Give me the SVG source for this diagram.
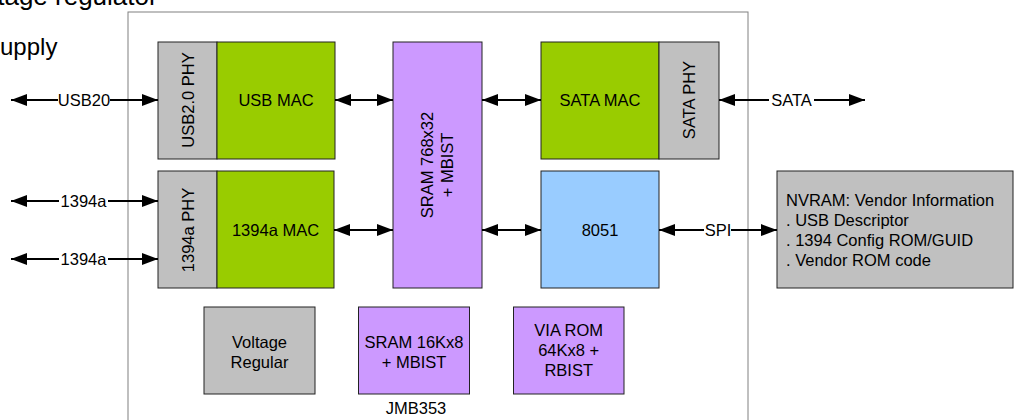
<svg xmlns="http://www.w3.org/2000/svg" width="1017" height="420" viewBox="0 0 1017 420">
<style>
text{font-family:"Liberation Sans",Arial,sans-serif;font-size:16.5px;fill:#000}
.c{text-anchor:middle}
.bg{font-size:26px}
.box{stroke:#222;stroke-width:1}
.gray{fill:#C0C0C0}
.green{fill:#99CC00}
.purple{fill:#CC99FF}
.blue{fill:#99CCFF}
.ln{stroke:#000;stroke-width:2;fill:none}
</style>
<defs>
<marker id="ah" markerUnits="userSpaceOnUse" markerWidth="17" markerHeight="12" refX="16" refY="6" orient="auto-start-reverse">
<path d="M0,0 L16,6 L0,12 z" fill="#000"/>
</marker>
</defs>
<rect width="1017" height="420" fill="#fff"/>
<text class="bg" x="-2.8" y="5">tage regulator</text>
<text class="bg" x="0" y="55" style="font-size:24px">upply</text>
<rect id="chip" x="128" y="12" width="620" height="420" fill="none" stroke="#808080" stroke-width="1"/>
<text class="c" x="416" y="414">JMB353</text>
<g id="usbphy"><rect class="box gray" x="158" y="42" width="59" height="117"/><text class="c" transform="translate(193.5,100) rotate(-90)">USB2.0 PHY</text></g>
<g id="usbmac"><rect class="box green" x="217" y="42" width="118" height="117"/><text class="c" x="276" y="106">USB MAC</text></g>
<g id="sram768"><rect class="box purple" x="393" y="42" width="89" height="246"/><text class="c" transform="translate(437.5,165) rotate(-90)"><tspan x="0" y="-4.2">SRAM 768x32</tspan><tspan x="0" y="15.8">+ MBIST</tspan></text></g>
<g id="satamac"><rect class="box green" x="541" y="42" width="118" height="117"/><text class="c" x="600" y="106">SATA MAC</text></g>
<g id="sataphy"><rect class="box gray" x="659" y="42" width="60" height="117"/><text class="c" transform="translate(695,100) rotate(-90)">SATA PHY</text></g>
<g id="phy1394"><rect class="box gray" x="158" y="171" width="59" height="117"/><text class="c" transform="translate(193.5,230) rotate(-90)">1394a PHY</text></g>
<g id="mac1394"><rect class="box green" x="217" y="171" width="117" height="117"/><text class="c" x="275.5" y="236">1394a MAC</text></g>
<g id="cpu8051"><rect class="box blue" x="541" y="171" width="118" height="117"/><text class="c" x="600" y="236">8051</text></g>
<g id="nvram"><rect class="box gray" x="777" y="171" width="236" height="117"/>
<text x="786" y="205.5">NVRAM: Vendor Information</text>
<text x="786" y="225.5">. USB Descriptor</text>
<text x="786" y="245.5">. 1394 Config ROM/GUID</text>
<text x="786" y="265.5">. Vendor ROM code</text></g>
<g id="vreg"><rect class="box gray" x="204" y="307" width="111" height="87"/><text class="c" x="259.5" y="347.5">Voltage</text><text class="c" x="259.5" y="367.5">Regular</text></g>
<g id="sram16k"><rect class="box purple" x="358.5" y="307" width="111" height="87"/><text class="c" x="414" y="347.5">SRAM 16Kx8</text><text class="c" x="414" y="367.5">+ MBIST</text></g>
<g id="viarom"><rect class="box purple" x="513.5" y="307" width="110.5" height="87"/><text class="c" x="568.7" y="336">VIA ROM</text><text class="c" x="568.7" y="356">64Kx8 +</text><text class="c" x="568.7" y="376">RBIST</text></g>
<g id="connectors">
<line class="ln" x1="58" y1="100" x2="11" y2="100" marker-end="url(#ah)"/>
<line class="ln" x1="110" y1="100" x2="158" y2="100" marker-end="url(#ah)"/>
<text class="c" x="84" y="106">USB20</text>
<line class="ln" x1="335" y1="100" x2="393" y2="100" marker-start="url(#ah)" marker-end="url(#ah)"/>
<line class="ln" x1="482" y1="100" x2="541" y2="100" marker-start="url(#ah)" marker-end="url(#ah)"/>
<line class="ln" x1="769" y1="100" x2="719" y2="100" marker-end="url(#ah)"/>
<line class="ln" x1="814" y1="100" x2="865" y2="100" marker-end="url(#ah)"/>
<text class="c" x="791.5" y="106">SATA</text>
<line class="ln" x1="59" y1="201" x2="11" y2="201" marker-end="url(#ah)"/>
<line class="ln" x1="108" y1="201" x2="158" y2="201" marker-end="url(#ah)"/>
<text class="c" x="83.5" y="207">1394a</text>
<line class="ln" x1="59" y1="259" x2="11" y2="259" marker-end="url(#ah)"/>
<line class="ln" x1="108" y1="259" x2="158" y2="259" marker-end="url(#ah)"/>
<text class="c" x="83.5" y="265">1394a</text>
<line class="ln" x1="334" y1="230" x2="393" y2="230" marker-start="url(#ah)" marker-end="url(#ah)"/>
<line class="ln" x1="482" y1="230" x2="541" y2="230" marker-start="url(#ah)" marker-end="url(#ah)"/>
<line class="ln" x1="704" y1="230" x2="659" y2="230" marker-end="url(#ah)"/>
<line class="ln" x1="731" y1="230" x2="777" y2="230" marker-end="url(#ah)"/>
<text class="c" x="718" y="236">SPI</text>
</g>
</svg>
